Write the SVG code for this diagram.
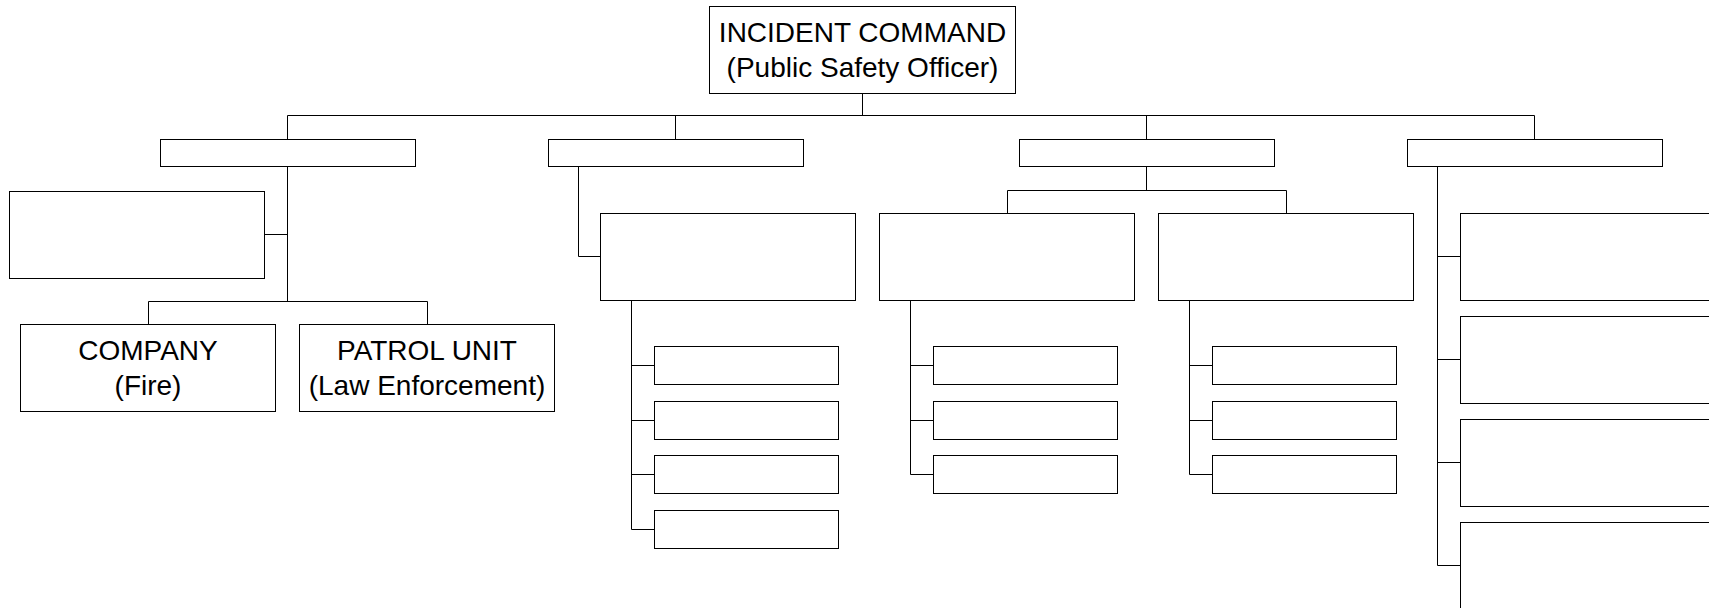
<svg xmlns="http://www.w3.org/2000/svg" width="1709" height="608" viewBox="0 0 1709 608">
<style>
.box{fill:#fff;stroke:#000;stroke-width:1}
.ln{fill:none;stroke:#000;stroke-width:1}
.t{font-family:"Liberation Sans",Arial,sans-serif;font-size:28px;fill:#000;text-anchor:middle}
</style>
<rect width="1709" height="608" fill="#fff"/>
<g id="connectors" class="ln">
<path d="M862.5 93.5V115.5M287.5 115.5H1534.5M287.5 115.5V139.5M675.5 115.5V139.5M1146.5 115.5V139.5M1534.5 115.5V139.5"/>
<path d="M287.5 166.5V301.5M264.5 234.5H287.5M148.5 301.5H427.5M148.5 301.5V324.5M427.5 301.5V324.5"/>
<path d="M578.5 166.5V256.5H600.5M631.5 300.5V529.5M631.5 365.5H654.5M631.5 420.5H654.5M631.5 474.5H654.5M631.5 529.5H654.5"/>
<path d="M1146.5 166.5V190.5M1007.5 190.5H1286.5M1007.5 190.5V213.5M1286.5 190.5V213.5"/>
<path d="M910.5 300.5V474.5M910.5 365.5H933.5M910.5 420.5H933.5M910.5 474.5H933.5"/>
<path d="M1189.5 300.5V474.5M1189.5 365.5H1212.5M1189.5 420.5H1212.5M1189.5 474.5H1212.5"/>
<path d="M1437.5 166.5V565.5M1437.5 256.5H1460.5M1437.5 359.5H1460.5M1437.5 462.5H1460.5M1437.5 565.5H1460.5"/>
</g>
<g id="incident-command"><rect class="box" x="709.5" y="6.5" width="306" height="87"/><text class="t" x="862.5" y="41.5">INCIDENT COMMAND</text><text class="t" x="862.5" y="76.5">(Public Safety Officer)</text></g>
<g id="l2-a"><rect class="box" x="160.5" y="139.5" width="255" height="27"/></g>
<g id="l2-b"><rect class="box" x="548.5" y="139.5" width="255" height="27"/></g>
<g id="l2-c"><rect class="box" x="1019.5" y="139.5" width="255" height="27"/></g>
<g id="l2-d"><rect class="box" x="1407.5" y="139.5" width="255" height="27"/></g>
<g id="a-side"><rect class="box" x="9.5" y="191.5" width="255" height="87"/></g>
<g id="company"><rect class="box" x="20.5" y="324.5" width="255" height="87"/><text class="t" x="148" y="360">COMPANY</text><text class="t" x="148" y="395">(Fire)</text></g>
<g id="patrol"><rect class="box" x="299.5" y="324.5" width="255" height="87"/><text class="t" x="427" y="360">PATROL UNIT</text><text class="t" x="427" y="395">(Law Enforcement)</text></g>
<g id="b-main"><rect class="box" x="600.5" y="213.5" width="255" height="87"/></g>
<g id="b-1"><rect class="box" x="654.5" y="346.5" width="184" height="38"/></g>
<g id="b-2"><rect class="box" x="654.5" y="401.5" width="184" height="38"/></g>
<g id="b-3"><rect class="box" x="654.5" y="455.5" width="184" height="38"/></g>
<g id="b-4"><rect class="box" x="654.5" y="510.5" width="184" height="38"/></g>
<g id="c-1"><rect class="box" x="879.5" y="213.5" width="255" height="87"/></g>
<g id="c-2"><rect class="box" x="1158.5" y="213.5" width="255" height="87"/></g>
<g id="c1-1"><rect class="box" x="933.5" y="346.5" width="184" height="38"/></g>
<g id="c1-2"><rect class="box" x="933.5" y="401.5" width="184" height="38"/></g>
<g id="c1-3"><rect class="box" x="933.5" y="455.5" width="184" height="38"/></g>
<g id="c2-1"><rect class="box" x="1212.5" y="346.5" width="184" height="38"/></g>
<g id="c2-2"><rect class="box" x="1212.5" y="401.5" width="184" height="38"/></g>
<g id="c2-3"><rect class="box" x="1212.5" y="455.5" width="184" height="38"/></g>
<g id="d-1"><rect class="box" x="1460.5" y="213.5" width="255" height="87"/></g>
<g id="d-2"><rect class="box" x="1460.5" y="316.5" width="255" height="87"/></g>
<g id="d-3"><rect class="box" x="1460.5" y="419.5" width="255" height="87"/></g>
<g id="d-4"><rect class="box" x="1460.5" y="522.5" width="255" height="87"/></g>
</svg>
